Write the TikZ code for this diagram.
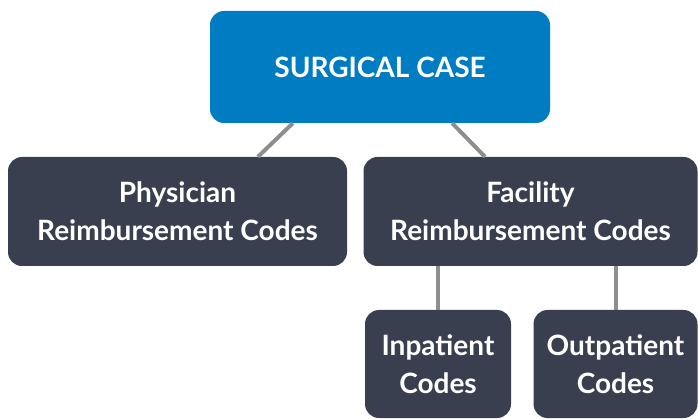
\documentclass[tikz,border=0pt]{standalone}
\usepackage{fontspec}
\setmainfont{Lato}
\usetikzlibrary{calc}
\definecolor{colcase}{RGB}{0,124,195}
\definecolor{colcode}{RGB}{58,63,79}
\definecolor{colline}{RGB}{142,142,142}
\tikzset{
  % TOP BOX
  frameCase/.style={
    rectangle,
    rounded corners=14pt,
    text = white,
    fill = colcase,
    font = \fontsize{28}{36}\selectfont\bfseries,
    text centered
  },
  % CODE BOXES
  frameCode/.style={
    rectangle,
    rounded corners=14pt,
    text = white,
    fill = colcode,
    align = center,
    font = \fontsize{28}{38}\selectfont\bfseries
  },
  % LINKS
  lineLink/.style={
    draw=colline,line width=4pt
  }
}
\begin{document}
\begin{tikzpicture}[x=1pt,y=-1pt]
\useasboundingbox (0,0) rectangle (698,419);

% Top node
\node [frameCase, minimum width=340pt, minimum height=112pt] (case) at (380,67) {SURGICAL CASE} ;

% Reimbursement codes
\node [frameCode, minimum width=339pt, minimum height=109pt] (physician) at (177.5,211.5) {Physician \\ Reimbursement Codes} ;
\node [frameCode, minimum width=334pt, minimum height=109pt] (facility) at (530.5,211.5) {Facility \\ Reimbursement Codes} ;

% Facility codes
\node [frameCode, minimum width=146pt, minimum height=108pt] (inpatient) at (438,364) {Inpatient \\ Codes} ;
\node [frameCode, minimum width=164pt, minimum height=108pt] (outpatient) at (615.5,364) {Outpatient \\ Codes} ;

% Lines
\path [lineLink] ($(case.south west)!0.244!(case.south east)$) -- ($(physician.north west)!0.737!(physician.north east)$) ;
\path [lineLink] ($(case.south west)!0.712!(case.south east)$) -- ($(facility.north west)!0.364!(facility.north east)$) ;
\path [lineLink] (inpatient.north) -- (inpatient.north |- facility.south) ;
\path [lineLink] (outpatient.north) -- (outpatient.north |- facility.south) ;

\end{tikzpicture}
\end{document}
